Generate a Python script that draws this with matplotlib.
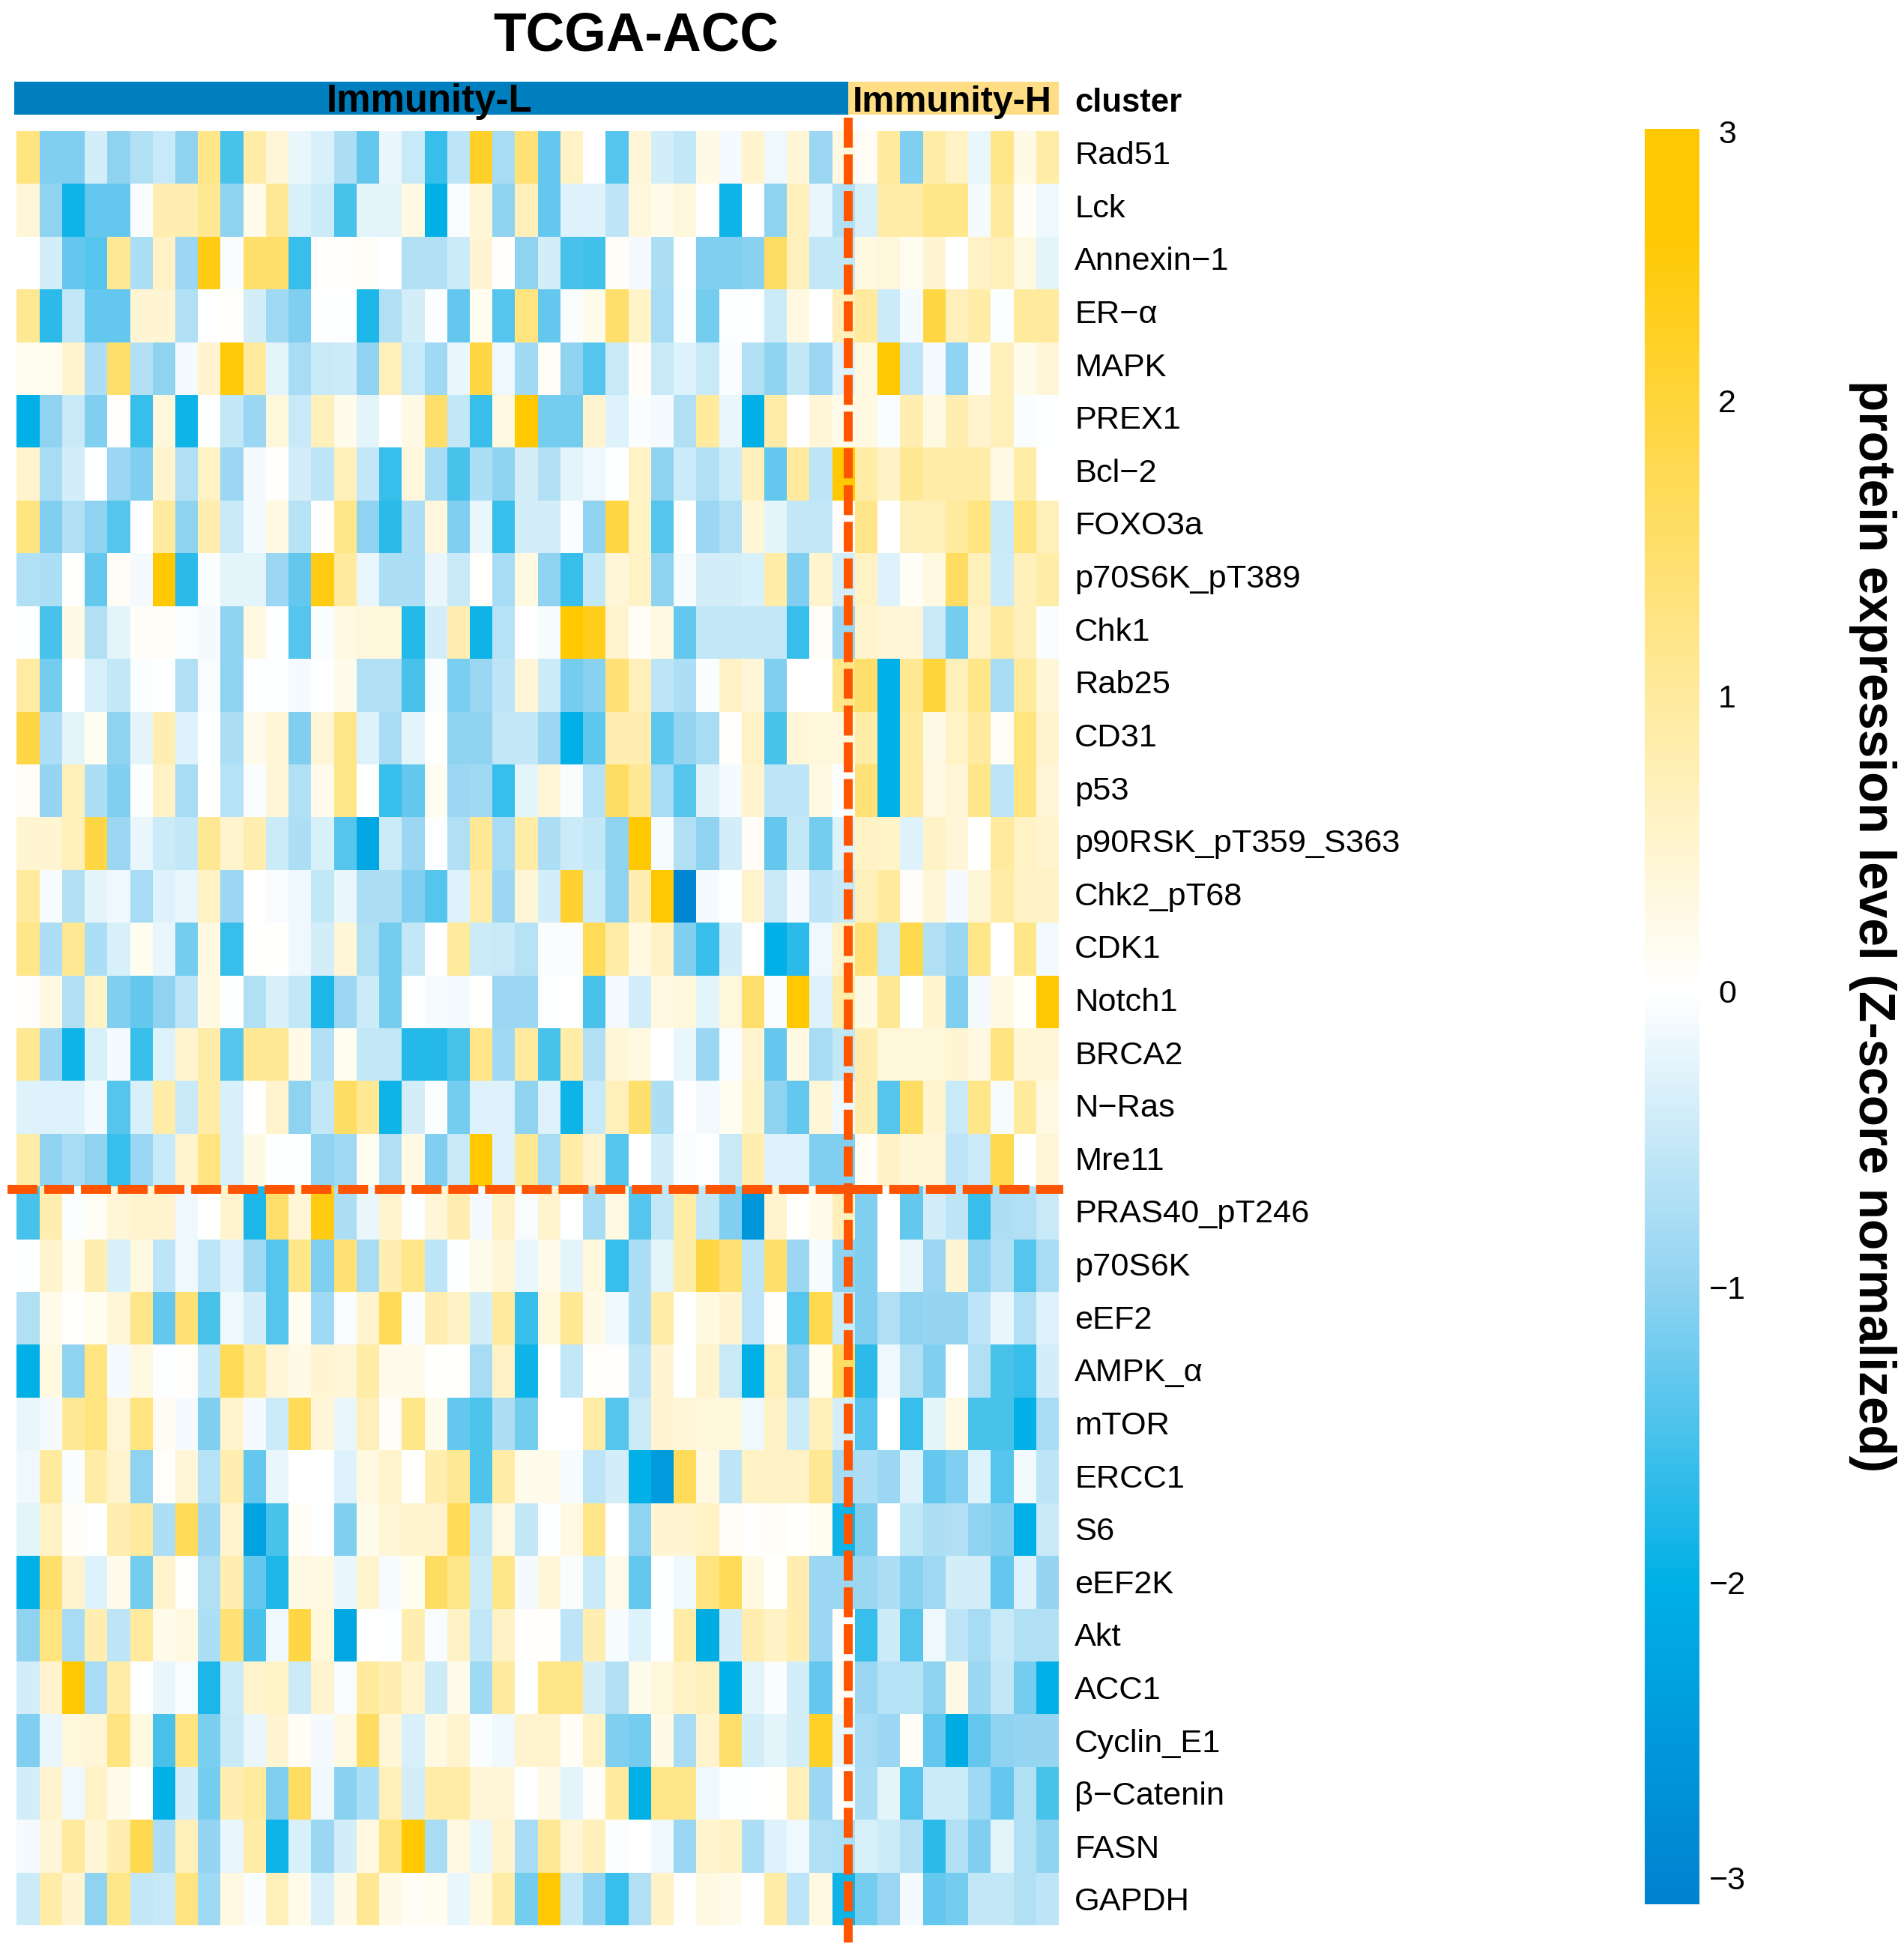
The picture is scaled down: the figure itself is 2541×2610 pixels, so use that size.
import numpy as np
import matplotlib
matplotlib.use("Agg")
import matplotlib.pyplot as plt
from matplotlib.cm import ScalarMappable
from matplotlib.colors import LinearSegmentedColormap, Normalize

W, H = 2541, 2610

proteins = ["Rad51", "Lck", "Annexin−1", "ER−α", "MAPK", "PREX1", "Bcl−2", "FOXO3a",
            "p70S6K_pT389", "Chk1", "Rab25", "CD31", "p53", "p90RSK_pT359_S363",
            "Chk2_pT68", "CDK1", "Notch1", "BRCA2", "N−Ras", "Mre11", "PRAS40_pT246",
            "p70S6K", "eEF2", "AMPK_α", "mTOR", "ERCC1", "S6", "eEF2K", "Akt", "ACC1",
            "Cyclin_E1", "β−Catenin", "FASN", "GAPDH"]

# z-scores, 37 Immunity-L samples then 9 Immunity-H
rad51 = [1.3, -1.1, -1.1, -0.4, -1.0, -0.7, -0.5, -1.0, 1.2, -1.5, 0.9, 0.4, -0.2, -0.35, -0.75, -1.3, -0.2, -0.5, -1.6, -0.6, 2.2, -0.8, 1.4,
         -1.3, 0.6, 0, -1.4, 0.4, -0.4, -0.55, 0.25, -0.1, 0.5, -0.15, 0.4, -0.9, 0.3, 0.1, 1.0, -1.1, 0.9, 0.6, -0.2, 1.2, 0.25, 0.9]
lck = [0.4, -1.0, -1.9, -1.3, -1.3, -0.05, 0.8, 0.8, 1.1, -1.0, 0.2, 1.1, -0.35, -0.45, -1.5, -0.25, -0.25, 0.3, -2.0, -0.05, 0.4, -1.0, 0.7,
       -1.3, -0.3, -0.3, -0.6, 0.35, 0.2, 0.35, 0, -1.9, -0.02, -1.0, 0.7, -0.2, -0.7, -0.35, 0.9, 0.9, 1.2, 1.2, -0.1, 1.0, 0.1, -0.15]
annexin1 = [0, -0.4, -1.3, -1.4, 1.1, -0.75, 0.6, -0.9, 2.4, -0.05, 1.5, 1.5, -1.6, 0.05, 0.05, 0.07, 0, -0.7, -0.7, -0.45, 0.45, 0.03, -1.0,
            -0.4, -1.5, -1.55, 0.08, -0.1, -0.75, 0, -1.1, -1.1, -1.05, 1.6, 0.7, -0.55, -0.55, 0.3, 0.35, 0.15, 0.45, 0, 0.6, 0.7, 0.3, -0.25]
er_alpha = [1.1, -1.7, -0.55, -1.3, -1.3, 0.45, 0.45, -0.7, -0.02, 0.05, -0.4, -0.85, -1.1, -0.02, -0.02, -1.8, -0.7, -0.4, -0.03, -1.3, 0.15, -1.4, 1.3,
            -1.3, -0.05, 0.2, 1.5, 0.55, -0.8, -0.03, -1.2, -0.02, -0.02, -0.45, 0.3, 0, 0.7, 1.0, -0.45, -0.1, 1.9, 0.7, 0.9, -0.03, 1.0, 1.0]
mapk = [0.15, 0.15, 0.5, -0.75, 1.5, -0.7, -1.0, -0.1, 0.5, 2.5, 1.0, -0.25, -0.8, -0.5, -0.45, -1.0, 0.7, -0.5, -0.85, -0.2, 1.9, -0.15, -0.85,
        0.1, -1.0, -1.4, -0.5, 0.1, -0.5, -0.3, -0.5, -0.05, -0.7, -1.0, -0.55, -0.9, -0.3, 0.3, 2.6, -0.6, -0.1, -1.0, -0.05, 0.7, 0.2, 0.4]
prex1 = [-2.0, -1.0, -0.5, -1.1, 0.03, -1.6, 0.35, -1.9, -0.02, -0.55, -0.9, 0.35, -0.5, 0.7, 0.2, -0.25, 0, 0.25, 1.5, -0.55, -1.6, 0.3, 2.6,
         -1.2, -1.2, 0.5, -0.3, -0.05, -0.1, -0.7, 1.0, -0.2, -2.0, 0.9, 0, 0.4, 0.2, 0.3, -0.05, 0.8, 0.3, 0.8, 0.5, 0.7, -0.05, -0.02]
bcl2 = [0.5, -0.8, -0.4, -0.02, -0.9, -1.1, 0.5, -0.7, 0.6, -0.9, -0.1, 0.05, -0.4, -0.6, 0.7, -0.55, -1.6, 0.35, -0.8, -1.5, -0.75, -1.0, -0.4,
        -0.7, -0.25, -0.15, -0.02, 0.6, -1.0, -0.45, -0.7, -0.45, 0.7, -1.3, 1.0, -0.6, 2.6, 0.9, 0.6, 1.1, 0.9, 0.9, 0.9, 0.3, 0.9, 0]
foxo3a = [1.3, -1.1, -0.7, -1.0, -1.4, -0.02, 1.0, -1.0, 0.8, -0.5, -0.1, 0.3, -0.65, 0.03, 1.2, -1.0, -1.7, -0.75, 0.35, -1.1, -0.2, -1.6, -0.4,
          -0.4, -0.05, -1.0, 1.9, 0.6, -1.4, 0.02, -0.9, -0.7, 0.4, -0.25, -0.55, -0.55, 0.03, 1.2, 0, 0.7, 0.7, 1.0, 1.3, -0.5, 1.3, 0.7]
p70s6k_pt389 = [-0.7, -0.75, 0.02, -1.3, 0.1, -0.1, 2.7, -1.7, -0.05, -0.25, -0.25, -0.9, -1.3, 2.4, 1.0, -0.2, -0.75, -0.75, -0.2, -0.5, 0.05, -0.8, 0.3,
                -1.0, -1.6, -0.55, 0.4, 0.6, -1.0, -0.08, -0.4, -0.4, -0.35, 0.9, -1.1, 0.5, -0.4, 0.6, -0.3, 0.1, 0.3, 1.6, 0.7, -0.45, 0.7, 0.9]
chk1 = [-0.02, -1.5, 0.25, -0.7, -0.25, 0.08, 0.08, -0.03, -0.1, -1.0, 0.3, -0.02, -1.4, -0.05, 0.3, 0.35, 0.35, -1.75, -0.4, 0.8, -1.9, -0.65, 0,
        -0.08, 2.7, 2.3, 0.5, 0.1, 0.3, -1.3, -0.55, -0.55, -0.55, -0.55, -1.6, 0.1, -0.9, 0.5, 0.4, 0.4, -0.5, -1.2, 0.6, 1.0, 0.7, -0.05]
rab25 = [0.95, -1.2, 0, -0.35, -0.55, -0.03, -0.01, -0.7, -0.07, -1.0, -0.02, -0.02, -0.1, -0.02, 0.2, -0.7, -0.7, -1.5, -0.05, -1.15, -0.9, -0.6, 0.4,
         -0.45, -1.2, -1.05, 1.4, 0.7, -0.6, -0.75, -0.05, 0.6, 0.4, -1.1, 0, 0, 1.2, 1.5, -2.0, 1.1, 2.0, 0.7, 1.2, -0.8, 1.0, 0.4]
cd31 = [1.9, -0.75, -0.25, 0.15, -1.0, -0.25, 0.8, -0.3, -0.01, -0.75, 0.2, 0.4, -1.1, 0.4, 1.2, -0.3, -0.8, -0.25, 0.02, -1.0, -1.0, -0.55, -0.55,
        -0.9, -2.0, -1.35, 0.8, 0.8, -1.35, -0.95, -0.8, 0.05, 0.6, -1.5, 0.4, 0.35, 0.35, 0.9, -2.0, 1.0, 0.25, 0.6, 1.0, 0.1, 1.3, 0.5]
p53 = [0.1, -0.95, 0.7, -0.75, -1.1, -0.03, 0.6, -0.8, 0, -0.65, -0.05, 0.4, -0.7, 0.2, 1.2, -0.01, -1.6, -1.3, 0.15, -0.9, -0.85, -1.6, -0.25,
       0.4, -0.05, -0.65, 1.6, 1.1, -0.8, -1.4, -0.3, -0.1, 0.5, -0.6, -0.6, 0.3, -0.03, 1.4, -2.0, 1.0, 0.3, 0.4, 1.2, -0.6, 1.3, 0.4]
p90rsk = [0.45, 0.45, 0.7, 1.9, -0.9, -0.2, -0.45, -0.55, 1.1, 0.5, 0.8, -0.45, -0.75, -0.35, -1.4, -2.2, -0.45, -0.9, -0.02, -0.7, 1.1, -0.8, 0.9,
          -0.75, -0.45, -0.55, -1.0, 2.7, -0.08, -0.7, -1.0, -0.4, 0.1, -1.3, -0.55, -1.2, -0.3, 0.6, 0.55, -0.3, 0.6, 0.4, 0.02, 1.0, 0.6, 0.5]
chk2_pt68 = [1.0, -0.08, -0.7, -0.25, -0.15, -0.8, -0.3, -0.2, 0.6, -0.9, 0, -0.07, -0.15, -0.55, -0.2, -0.75, -0.75, -1.1, -1.4, -0.3, 0.9, -0.9, 0.4,
             -0.4, 2.1, -0.45, -1.0, 0.8, 2.7, -3.0, -0.1, -0.01, 0.5, -0.5, -0.1, -0.6, -0.5, 0.7, 1.0, 0.08, 0.4, -0.1, 0.4, 0.9, 0.6, 0.6]
cdk1 = [1.2, -0.75, 1.1, -0.75, -0.35, 0.15, -0.2, -1.2, 0.3, -1.6, 0.05, 0.02, -0.15, -0.4, 0.4, -0.7, -1.2, -0.55, 0, 1.0, -0.45, -0.5, -0.65,
        -0.05, -0.06, 1.7, 0.9, 0.3, 0.6, -1.1, -1.6, -0.4, 0.03, -2.0, -1.7, -0.15, 0.6, 1.4, -0.5, 1.8, -0.7, -0.9, 1.2, 0, 1.2, -0.12]
notch1 = [0.03, 0.3, -0.7, 0.6, -1.1, -1.3, -1.0, -0.6, 0.3, -0.01, -0.7, -0.35, -0.55, -1.8, -0.9, -0.45, -1.2, -0.02, -0.08, -0.1, 0.01, -0.9, -0.9,
          -0.02, 0, -1.5, -0.1, -0.4, 0.3, 0.35, -0.25, 0.35, 1.5, -0.05, 2.7, -0.3, 0.9, 0.25, 1.1, -0.01, 0.5, -1.1, -0.1, 0.3, 0.05, 2.7]
brca2 = [1.1, -0.9, -1.9, -0.35, -0.1, -1.6, -0.3, 0.5, 0.9, -1.4, 1.1, 1.1, 0.25, -0.7, 0.15, -0.55, -0.55, -1.75, -1.75, -1.5, 1.2, -0.85, 1.0,
         -1.5, 0.9, -0.7, 0.4, 0.3, 0, -0.2, -0.9, -0.05, 0.5, -1.3, 0.3, -0.8, -0.55, 0.8, 0.35, 0.35, 0.35, 0.45, 0.3, 1.3, 0.4, 0.4]
n_ras = [-0.3, -0.3, -0.3, -0.12, -1.4, -0.35, 0.9, -0.5, 0.9, -0.35, 0.03, 0.5, -1.0, -0.55, 1.6, 1.1, -1.9, -0.4, -0.03, -1.2, -0.3, -0.3, -1.0,
         -0.3, -1.9, -0.5, 0.7, 1.5, -0.75, -0.02, -0.12, 0.15, 0.55, -1.0, -1.3, 0.4, -0.15, 0.8, -1.4, 1.6, 0.5, -0.5, 1.2, -0.08, 1.0, 0.3]
mre11 = [0.9, -1.0, -0.8, -1.0, -1.6, -0.9, -0.5, 0.5, 1.3, -0.35, 0.25, -0.02, -0.01, -1.0, -0.85, 0.15, -0.7, 0.25, -1.1, -0.5, 2.7, -0.3, 1.1,
         -0.8, 0.9, 0.5, -1.4, 0, -0.4, -0.05, -0.02, -0.5, 0.8, -0.3, -0.3, -1.1, -1.1, 0.1, 0.6, 0.4, 0.4, -0.6, -0.45, 1.8, 0, 0.4]
pras40 = [-1.5, 0.8, -0.03, 0.1, 0.4, 0.5, 0.5, -0.15, 0.01, 0.5, -1.8, 1.5, 0.4, 2.4, -0.75, -0.2, 0.5, -0.02, 0.4, 0.8, -0.1, 0.6, -0.07,
          0.5, -0.01, -0.8, 0.3, -1.4, -0.55, 0.9, -0.55, -1.1, -2.6, 0.5, 0.02, 0.2, 0.7, -1.1, 0, -1.3, -0.4, -0.6, -1.6, -0.75, -0.7, -0.5]
p70s6k = [-0.01, 0.5, 0.15, 0.8, -0.35, 0.3, -0.6, -0.15, -0.6, -0.3, -0.85, -1.4, 1.2, -1.1, 1.4, -0.8, 0.8, 1.2, -0.6, -0.01, 0.2, 0.4, -0.2,
          0.2, -0.25, 0.35, -1.6, -0.75, -0.25, 0.9, 1.9, 1.4, -0.6, 1.5, -0.9, -0.08, -1.0, -1.1, 0, -0.2, -0.9, 0.45, -1.0, -0.7, -1.4, -0.8]
eef2 = [-0.7, 0.2, 0.01, 0.15, 0.4, 1.2, -1.3, 1.4, -1.5, -0.15, -0.4, -1.4, 0.15, -0.85, -0.05, 0.5, 1.7, -0.05, 0.8, 0.6, -0.4, 1.0, -1.6,
        0.35, 1.1, 0.25, -0.15, -0.75, 0.9, 0.02, 0.3, 0.45, -0.6, 0.03, -1.4, 1.8, -0.45, -1.1, -0.7, -1.0, -0.95, -0.95, -0.6, -0.2, -0.7, -0.3]
ampk_alpha = [-2.0, 0.3, -1.0, 1.3, -0.1, 0.3, -0.02, 0.05, -0.55, 1.7, 1.0, 0.4, 0.25, 0.45, 0.4, 0.9, 0.2, 0.2, 0.01, 0.01, -0.8, 0.6, -1.9,
              0, -0.55, 0.03, 0.03, -0.6, 0.45, -0.01, 0.5, -0.5, -2.0, 0.7, -1.0, 0.15, 1.6, -1.7, -0.15, -0.7, -1.1, 0, -0.7, -1.5, -1.6, -0.4]
mtor = [-0.2, -0.1, 1.1, 1.3, 0.4, 1.3, 0.12, -0.1, -1.1, 0.5, -0.1, -0.45, 1.7, 0.4, -0.2, 0.7, 0.1, 1.2, 0.2, -1.3, -1.45, -0.75, -1.2,
        0, 0, 0.9, -1.4, -0.45, 0.45, 0.4, 0.35, 0.35, -0.15, 0.6, -0.45, 0.7, -0.4, -1.4, 0, -1.6, -0.25, 0.3, -1.5, -1.5, -2.0, -0.8]
ercc1 = [-0.15, 1.0, -0.05, 0.9, 0.5, -1.0, 0.05, 0.4, -0.65, 0.8, -1.3, -0.2, 0, -0.01, -0.3, 0.3, 0.5, 0.02, 0.8, 1.1, -1.45, 0.9, 0.2,
         0.2, -0.08, -0.6, -0.4, -2.0, -2.5, 1.7, 0.3, -0.6, 0.6, 0.6, 0.6, 1.1, -0.8, -0.75, -0.9, -0.3, -1.3, -1.1, -0.3, -1.4, -0.12, -0.6]
s6 = [-0.25, 0.6, 0.08, -0.02, 0.8, 1.0, -0.75, 1.7, -0.9, 0.5, -2.3, -1.5, 0.1, -0.02, -1.1, 0.2, 0.4, 0.5, 0.5, 1.7, -0.55, 0.3, -0.55,
      -0.02, 0.3, 1.2, 0, -1.0, 0.45, 0.45, 0.6, 0.1, 0.03, 0.08, 0.02, 0.15, -1.9, -1.1, 0, -0.55, -0.75, -0.7, -1.0, -1.1, -2.0, -0.5]
eef2k = [-2.0, 1.5, 0.5, -0.3, 0.2, -1.2, 0.5, 0.02, -0.7, 0.8, -1.3, -1.8, 0.3, 0.3, -0.2, 0.5, -0.08, 0.15, 1.6, 1.2, -0.45, 1.2, -0.1,
         0.4, -0.05, -0.5, 0.2, -1.3, -0.02, -0.15, 1.3, 1.7, 0.3, 0.02, 0.8, -0.9, -0.9, -0.9, -0.75, -1.05, -0.85, -0.4, -0.4, -1.3, -0.3, -0.95]
akt = [-1.0, 1.3, -0.8, 0.8, -0.6, 1.0, 0.2, 0.3, -0.75, 1.4, -1.5, -0.15, 1.9, 0.35, -2.2, 0.02, -0.02, 0.8, -0.07, 0.6, -0.55, 0.6, 0.03,
       0.05, -0.6, 0.8, -0.08, -0.3, -0.02, 0.9, -2.1, -0.4, 0.8, 0.6, 0.8, -0.9, 0.05, -1.6, -0.45, -1.4, -0.15, -0.6, -0.8, -0.5, -0.7, -0.7]
acc1 = [-0.4, 0.5, 2.7, -0.8, 0.9, -0.01, -0.2, -0.07, -1.8, -0.45, 0.5, 0.55, -0.45, 0.5, -0.07, 1.0, 0.8, 0.5, -0.45, 0.2, -0.85, 1.0, -0.02,
        1.2, 1.2, -0.4, -0.7, 0.2, 0.35, 0.6, 0.7, -2.0, -0.25, -0.05, -0.4, -1.3, 0.1, -0.9, -0.65, -0.65, -1.0, 0.25, -0.9, -0.55, -1.2, -2.0]
cyclin_e1 = [-1.1, -0.2, 0.35, 0.4, 1.3, 0.3, -1.5, 1.3, -1.15, -0.5, -0.2, 0.45, 0.1, -0.1, 0.3, 1.6, 0.4, -0.35, 0.3, 0.5, -0.05, -0.15, 0.5,
             0.5, 0.1, 0.6, -1.1, -1.2, 0.25, -0.8, 0.5, 1.5, -0.4, -0.25, -0.4, 2.2, -0.2, -0.8, -0.9, 0.08, -1.3, -2.1, -1.3, -1.0, -0.95, -0.95]
beta_catenin = [-0.4, 0.5, -0.15, 0.6, 0.2, 0.02, -2.0, -0.4, -1.2, 0.8, 1.0, -1.1, 1.6, -0.15, -1.05, -0.75, 0.7, -0.4, 0.9, 0.9, 0.4, 0.4, -0.02,
                0.25, -0.25, 0.08, 1.0, -2.0, 1.2, 1.2, -0.15, -0.02, -0.02, 0.01, 0.7, -0.9, 0.02, -0.75, -0.25, -1.4, -0.45, -0.45, -0.85, -1.3, -0.7, -1.5]
fasn = [-0.1, 0.4, 1.0, 0.4, 0.8, 1.8, -0.75, 0.7, -0.95, -0.2, 0.9, -1.9, -0.35, -0.9, -0.4, 0.3, 1.3, 2.6, -0.8, 0.3, -0.2, 0.5, -0.8,
        1.1, 0.4, 0.7, -0.03, 0, -0.15, -0.9, 0.5, 0.6, -0.75, -0.3, -0.15, -0.7, -0.75, -0.35, -0.45, -0.7, -1.7, -0.7, -1.1, -0.25, -0.7, -1.0]
gapdh = [-0.45, 0.9, 0.45, -1.0, 1.2, -0.55, -0.5, 1.3, -0.85, 0.3, -0.05, 0.7, 0.2, -0.35, 0.25, 1.1, 0.25, 0.1, 0.15, -0.2, 0.3, 0.9, -1.2,
         2.7, -0.55, -1.0, -1.6, -0.7, 0.6, 0, 0.3, 0.2, 0, 0.9, -0.6, 0.3, -1.9, -1.2, -0.9, -0.1, -1.3, -1.2, -0.55, -0.55, -0.7, -0.6]

expr = np.array([rad51, lck, annexin1, er_alpha, mapk, prex1, bcl2, foxo3a, p70s6k_pt389, chk1,
                 rab25, cd31, p53, p90rsk, chk2_pt68, cdk1, notch1, brca2, n_ras, mre11, pras40,
                 p70s6k, eef2, ampk_alpha, mtor, ercc1, s6, eef2k, akt, acc1, cyclin_e1,
                 beta_catenin, fasn, gapdh])
n_rows, n_cols = expr.shape

cbar_ticks = [-3, -2, -1, 0, 1, 2, 2.91]
cbar_labels = ["−3", "−2", "−1", "0", "1", "2", "3"]

plt.rcParams["font.family"] = ["Liberation Sans", "DejaVu Sans"]
plt.rcParams["lines.scale_dashes"] = False

vmin, vmax = -3.09, 2.92


def frac(v):
    return (v - vmin) / (vmax - vmin)


cmap = LinearSegmentedColormap.from_list("immunity", [
    (0, "#0082D0"), (frac(-2), "#00B0E6"), (frac(-1), "#90D3F1"), (frac(0), "#FFFFFF"),
    (frac(2.6), "#FFC800"), (1, "#FFC800")], N=512)
norm = Normalize(vmin, vmax)


def add_axes_px(x0, y0, x1, y1):
    return fig.add_axes([x0 / W, 1 - y1 / H, (x1 - x0) / W, (y1 - y0) / H])


fig = plt.figure(figsize=(W / 100, H / 100), dpi=100)
ax = add_axes_px(22.4, 175, 1413, 2569)
ax.pcolormesh(expr, cmap=cmap, norm=norm)
ax.set_xlim(0, n_cols)
ax.set_ylim(n_rows, 0)
ax.axis("off")

# cluster strip above the heatmap
ax.barh(-0.625, 36.8, left=-0.1, height=0.63, color="#007FBF", clip_on=False)
ax.barh(-0.625, 9.3, left=36.7, height=0.63, color="#FFDD85", clip_on=False)
ax.text(18.2, -0.37, "Immunity-L", fontsize=36.7, fontweight="bold", ha="center", va="baseline", clip_on=False)
ax.text(41.3, -0.37, "Immunity-H", fontsize=34.8, fontweight="bold", ha="center", va="baseline", clip_on=False)
ax.text(46.7, -0.37, "cluster", fontsize=31.4, fontweight="bold", ha="left", va="baseline", clip_on=False)

for i, name in enumerate(proteins):
    ax.text(46.7, i + 0.5 + (9 + 0.2 * i) / 70.4, name, fontsize=31.25, ha="left", va="baseline", clip_on=False)

# dashed cut lines
dash = (0, (28.8, 6.5))
ax.plot([-0.41, 46.2], [20.05, 20.05], color="#FF5500", lw=8.6, ls=dash,
        dash_capstyle="butt", clip_on=False)
ax.plot([36.69, 36.69], [-0.26, 34.33], color="#FF5500", lw=8.6, ls=dash,
        dash_capstyle="butt", clip_on=False)

fig.text(849 / W, 1 - 68 / H, "TCGA-ACC", fontsize=51.5, fontweight="bold", ha="center", va="baseline")

cax = add_axes_px(2195, 172, 2268, 2541)
cbar = fig.colorbar(ScalarMappable(norm=norm, cmap=cmap), cax=cax)
cbar.outline.set_visible(False)
cbar.set_ticks(cbar_ticks)
cbar.set_ticklabels(cbar_labels)
cax.tick_params(length=0, pad=26.6, labelsize=31)
for lab in cax.get_yticklabels():
    lab.set_ha("center")

fig.text(2499 / W, 1 - 1236 / H, "protein expression level (Z-score normalized)", fontsize=48.7,
         fontweight="bold", rotation=270, ha="center", va="center")

fig.savefig("out.png", dpi=100)
